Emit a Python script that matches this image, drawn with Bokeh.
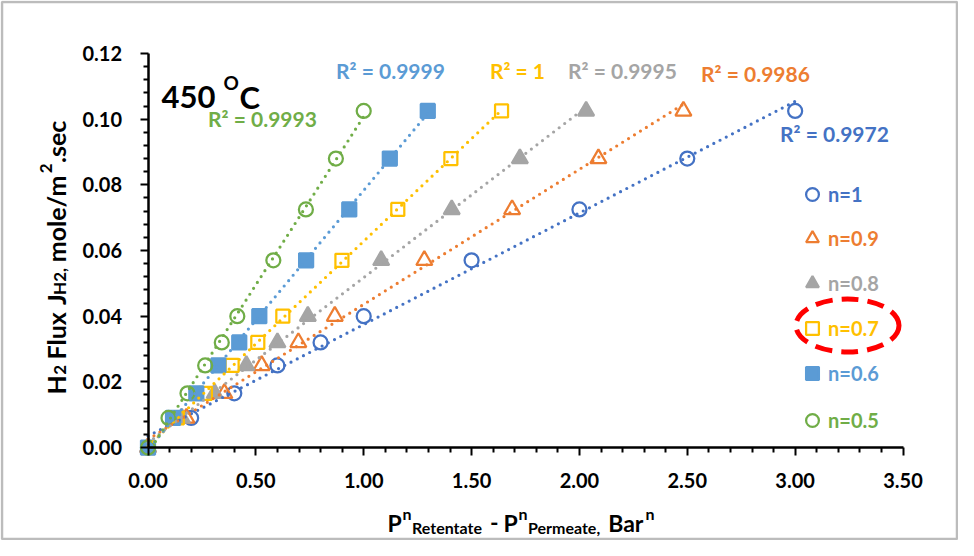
import numpy as np
from math import pi
from bokeh.plotting import figure
from bokeh.models import (Range1d, FixedTicker, NumeralTickFormatter, Label, Legend,
                          LegendItem, BoxAnnotation)
from bokeh.embed import file_html
from bokeh.resources import INLINE

# ---------------- data ----------------
y_flux = [0.0, 0.009, 0.0165, 0.025, 0.032, 0.040, 0.057, 0.0725, 0.088, 0.1025]
x_n1 = [0.0, 0.200, 0.400, 0.600, 0.800, 1.000, 1.500, 2.000, 2.500, 3.000]
x_n09 = [0.0, 0.178, 0.354, 0.527, 0.697, 0.866, 1.281, 1.688, 2.088, 2.482]
x_n08 = [0.0, 0.157, 0.309, 0.456, 0.600, 0.741, 1.081, 1.408, 1.724, 2.031]
x_n07 = [0.0, 0.136, 0.266, 0.390, 0.509, 0.625, 0.899, 1.158, 1.404, 1.639]
x_n06 = [0.0, 0.116, 0.224, 0.326, 0.423, 0.516, 0.733, 0.933, 1.121, 1.297]
x_n05 = [0.0, 0.095, 0.183, 0.265, 0.342, 0.414, 0.581, 0.732, 0.871, 1.000]
series_names = ["n=1", "n=0.9", "n=0.8", "n=0.7", "n=0.6", "n=0.5"]
r2_labels = ["R² = 0.9972", "R² = 0.9986", "R² = 0.9995", "R² = 1", "R² = 0.9999", "R² = 0.9993"]
x_ticks = [0.0, 0.5, 1.0, 1.5, 2.0, 2.5, 3.0, 3.5]
y_ticks = [0.0, 0.02, 0.04, 0.06, 0.08, 0.10, 0.12]
title_text = ["450", "O", "C"]

series_x = [x_n1, x_n09, x_n08, x_n07, x_n06, x_n05]
colors = ["#4472C4", "#ED7D31", "#A5A5A5", "#FFC000", "#5B9BD5", "#70AD47"]
markers = ["circle", "triangle", "triangle", "square", "square", "circle"]
filled = [False, False, True, False, True, False]
msizes = [14, 16, 16, 13, 14, 14]

FONT = "Lato"

# ---------------- layout geometry (canvas pixels) ----------------
W_FIG, H_FIG = 958, 540
AX_L, AX_R, AX_B, AX_T = 147.5, 902.5, 447.0, 53.0     # plot-area edges
X_MIN, X_MAX, Y_MIN, Y_MAX = 0.0, 3.5, 0.0, 0.12
KX = (AX_R - AX_L) / (X_MAX - X_MIN)
KY = (AX_B - AX_T) / (Y_MAX - Y_MIN)

p = figure(width=W_FIG, height=H_FIG,
           x_range=Range1d(X_MIN - AX_L / KX, X_MAX + (W_FIG - AX_R) / KX),
           y_range=Range1d(Y_MIN - (H_FIG - AX_B) / KY, Y_MAX + AX_T / KY),
           output_backend="svg", toolbar_location=None,
           min_border=0, min_border_left=0, min_border_right=0,
           min_border_top=0, min_border_bottom=0)
p.outline_line_color = None
p.xgrid.visible = False
p.ygrid.visible = False
p.background_fill_color = "white"
p.border_fill_color = "white"

def sx(px):           # canvas px -> frame screen x
    return px
def sy(py):           # canvas px (from top) -> frame screen y (from bottom)
    return H_FIG - py

minor_x = [round(i * 0.1, 2) for i in range(36) if i % 5 != 0]
minor_y = [round(i * 0.004, 3) for i in range(31) if i % 5 != 0]
p.xaxis.ticker = FixedTicker(ticks=x_ticks, minor_ticks=minor_x)
p.yaxis.ticker = FixedTicker(ticks=y_ticks, minor_ticks=minor_y)
p.xaxis.formatter = NumeralTickFormatter(format="0.00")
p.yaxis.formatter = NumeralTickFormatter(format="0.00")
p.xaxis.fixed_location = Y_MIN
p.yaxis.fixed_location = X_MIN
p.xaxis.bounds = (X_MIN, X_MAX)
p.yaxis.bounds = (Y_MIN, Y_MAX)
for ax in (p.xaxis, p.yaxis):
    ax.axis_line_color = "black"
    ax.axis_line_width = 2.5
    ax.major_tick_line_color = "black"
    ax.minor_tick_line_color = "black"
    ax.major_tick_line_width = 2
    ax.minor_tick_line_width = 2
    ax.major_tick_in = 0
    ax.major_tick_out = 8
    ax.minor_tick_in = 0
    ax.minor_tick_out = 5
    ax.major_label_text_font = FONT
    ax.major_label_text_font_style = "bold"
    ax.major_label_text_font_size = "20px"
    ax.major_label_text_color = "black"
p.xaxis.major_label_standoff = 17
p.yaxis.major_label_standoff = 18

# ---------------- markers, trendlines ----------------
renderers = []
for xs, c, m, f, s in zip(series_x, colors, markers, filled, msizes):
    r = p.scatter(x=xs, y=y_flux, marker=m, size=s, line_color=c, line_width=2.25,
                  fill_color=c if f else None)
    renderers.append(r)
for xs, c in zip(series_x, colors):
    k, b = np.polyfit(xs, y_flux, 1)
    x0, x1 = min(xs), max(xs)
    if k * x0 + b < Y_MIN:
        x0 = (Y_MIN - b) / k
    p.line(x=[x0, x1], y=[k * x0 + b, k * x1 + b], line_color=c, line_width=3.2,
           line_dash="0 7", line_cap="round")

# ---------------- legends (one per series, coloured text) ----------------
leg_py = [194, 238, 283, 328, 373, 420]
G = 32
for name, r, c, py in zip(series_names, renderers, colors, leg_py):
    lg = Legend(items=[LegendItem(label=name, renderers=[r])],
                location=(sx(812) - G / 2, sy(py) - G / 2),
                label_text_color=c, label_text_font=FONT, label_text_font_style="bold",
                label_text_font_size="20px", glyph_width=G, glyph_height=G,
                label_height=G, label_standoff=0, padding=0, margin=0, spacing=0,
                border_line_color=None, background_fill_alpha=0)
    p.add_layout(lg, "center")

# red dashed ellipse around n=0.7
p.ellipse(x=[(847 - AX_L) / KX], y=[(AX_B - 325) / KY], width=103, height=53,
          width_units="screen", height_units="screen", fill_color=None,
          line_color="#FF0000", line_width=5, line_dash="17 9")

# ---------------- text helpers ----------------
def lab(text, px, py, size, angle=0.0, color="black", align="left", baseline="alphabetic"):
    return Label(x=sx(px), y=sy(py), x_units="screen", y_units="screen", text=text,
                 text_color=color, text_font=FONT, text_font_style="bold",
                 text_font_size=f"{size}px", text_align=align, text_baseline=baseline,
                 angle=angle)

# R² labels
r2_pos = [(834, 133), (755, 73), (622, 70), (517, 70), (390, 70), (262, 118)]
for t, c, (px, py) in zip(r2_labels, colors, r2_pos):
    p.add_layout(lab(t, px, py, 21, color=c, align="center", baseline="middle"))

# title 450 °C
p.add_layout(lab(title_text[0], 161, 96, 31))
p.add_layout(lab(title_text[1], 223, 82, 19))
p.add_layout(lab(title_text[2], 239, 96, 31))

# rich axis titles
WID = {" ": .193, "P": .63, "n": .57, "R": .645, "e": .525, "t": .37, "a": .505, "m": .85,
       "r": .395, "-": .37, ",": .22, "B": .655, "H": .76, "F": .555, "l": .25, "u": .57,
       "x": .53, "J": .385, "o": .57, "/": .38, ".": .23, "s": .43, "c": .47, "2": .58}
def width(t, size):
    return sum(WID.get(ch, .55) for ch in t) * size * 1.04

def rich(runs, px0, py0, vertical=False):
    adv = 0.0
    for t, size, shift in runs:
        if t.strip():
            if vertical:
                p.add_layout(lab(t, px0 - shift, py0 - adv, size, angle=pi / 2))
            else:
                p.add_layout(lab(t, px0 + adv, py0 - shift, size))
        adv += width(t, size)

BIG, SMALL = 23, 16
x_runs = [("P", BIG, 0), ("n", SMALL, 9), ("Retentate", SMALL, -5), (" ", BIG, 0),
          ("-", BIG, 0), (" ", BIG, 0), ("P", BIG, 0), ("n", SMALL, 9),
          ("Permeate,", SMALL, -5), (" ", BIG, 0), ("Bar", BIG, 0), ("n", SMALL, 9)]
rich(x_runs, 387, 522)

YB, YS = 25, 17
y_runs = [("H", YB, 0), ("2", YS, -4), (" ", YB, 0), ("Flux", YB, 0), (" ", YB, 0),
          ("J", YB, 0), ("H2,", YS, -4), (" ", YB, 0), ("mole/m", YB, 0),
          ("2", YS, 10), (".sec", YB, 0)]
rich(y_runs, 55, 394, vertical=True)

# outer border
p.add_layout(BoxAnnotation(left=1.5, right=W_FIG - 1.5, bottom=1.5, top=H_FIG - 1.5,
                           left_units="screen", right_units="screen", top_units="screen",
                           bottom_units="screen", fill_alpha=0, line_color="#222222",
                           line_width=2.5))

open("out.html", "w").write(file_html(p, INLINE))
